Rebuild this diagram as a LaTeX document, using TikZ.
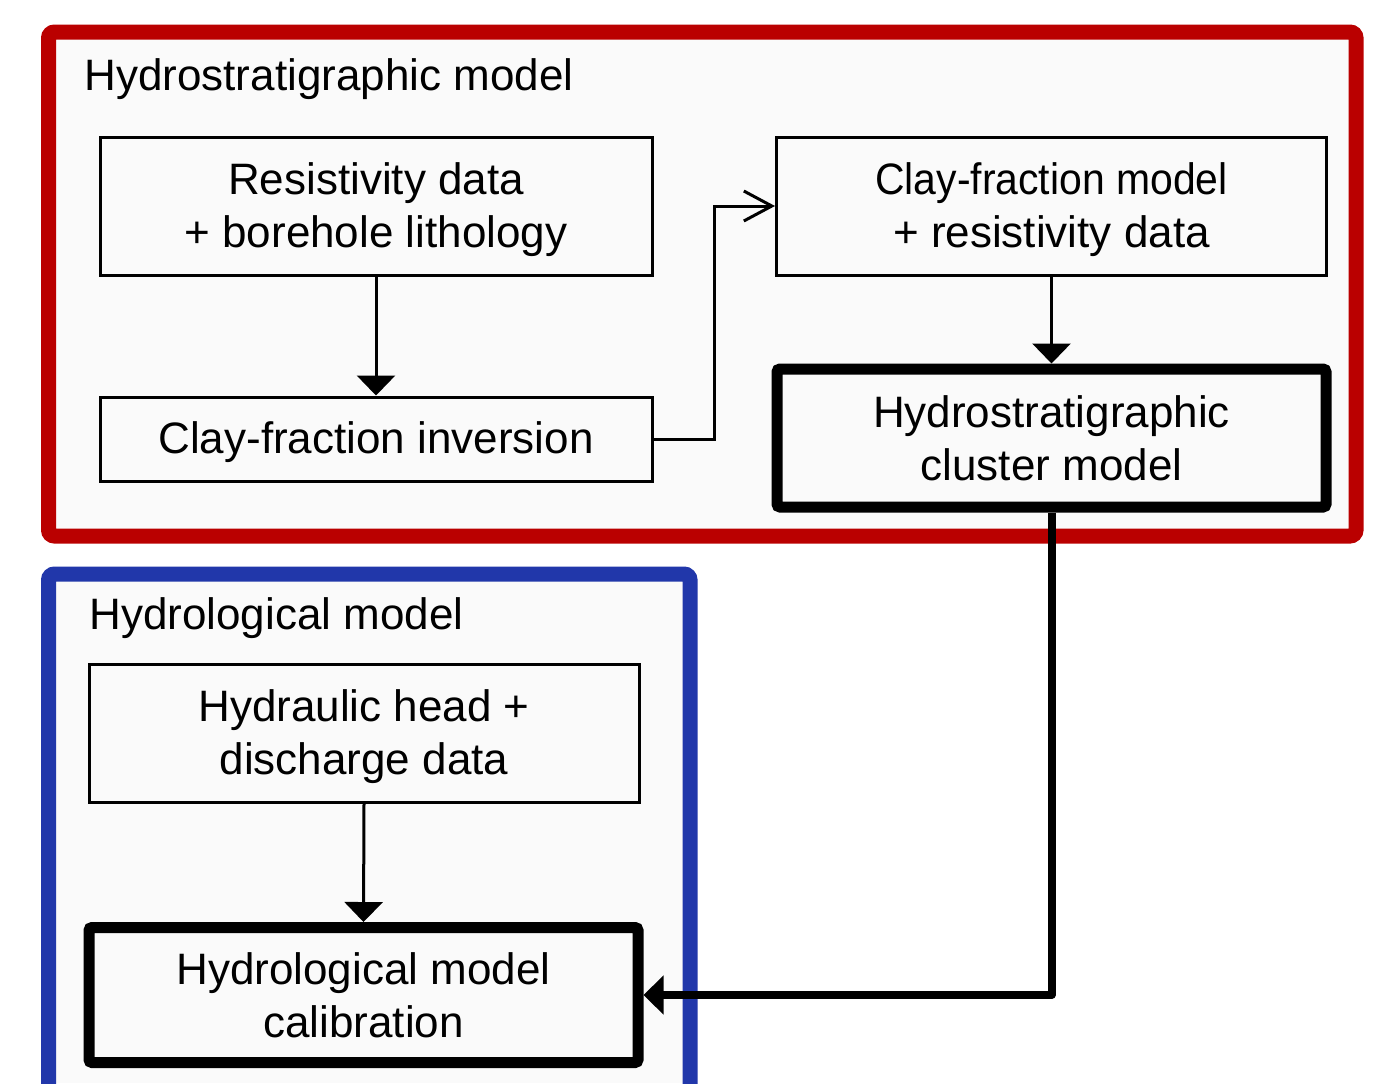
\documentclass[tikz,border=0pt]{standalone}
\usepackage{fontspec}
\setmainfont{Liberation Sans}
\usetikzlibrary{arrows.meta}
\definecolor{frRed}{RGB}{186,0,0}
\definecolor{frBlue}{RGB}{33,55,170}
\definecolor{bgGray}{RGB}{250,250,250}
\begin{document}
\begin{tikzpicture}[x=0.5pt,y=-0.5pt,
  txt/.style={font=\fontsize{22pt}{26.5pt}\selectfont, align=center, inner sep=0pt},
  thinbox/.style={draw, line width=1.5pt, rectangle, inner sep=0pt},
  thickbox/.style={draw, line width=5.5pt, rectangle, rounded corners=1.5pt, inner sep=0pt},
  frame/.style={line width=7.5pt, rounded corners=3pt, fill=bgGray},
  title/.style={font=\fontsize{22pt}{26.5pt}\selectfont, inner sep=0pt, anchor=base west},
  thinarrow/.style={line width=1.5pt, -{Triangle[length=10pt,width=19pt]}},
  openarrow/.style={line width=1.5pt, -{Straight Barb[length=14pt,width=15pt,line width=1.5pt]}},
  thickarrow/.style={line width=4pt, line join=round, -{Triangle[length=10pt,width=19pt]}}
]
\useasboundingbox (0,0) rectangle (1374,1083);
\fill[white] (0,0) rectangle (1374,1083);

% frames
\draw[frame, draw=frRed] (48.5,32) rectangle (1356,536);
\fill[bgGray] (48.5,574) rectangle (690,1083);
\draw[frame, draw=frBlue, fill=none] (48.5,1100) -- (48.5,574) -- (690,574) -- (690,1100);

% titles
\node[title] (t1) at (84,90) {Hydrostratigraphic model};
\node[title] (t2) at (89,629) {Hydrological model};

% boxes
\node[thinbox, minimum width=276pt, minimum height=69pt,
  label={[txt, yshift=-2pt]center:{Resistivity data\\+ borehole lithology}}] (A) at (376,206) {};
\node[thinbox, minimum width=276pt, minimum height=42pt,
  label={[txt, yshift=-1.5pt]center:{Clay-fraction inversion}}] (B) at (376,439) {};
\node[thinbox, minimum width=275pt, minimum height=69pt,
  label={[txt, yshift=-2pt]center:{\scalebox{0.93}[1]{Clay-fraction model}\\+ resistivity data}}] (C) at (1051.5,206) {};
\node[thickbox, minimum width=274.5pt, minimum height=69pt,
  label={[txt]center:{Hydrostratigraphic\\cluster model}}] (D) at (1051.5,438) {};
\node[thinbox, minimum width=275pt, minimum height=69pt,
  label={[txt, yshift=-2pt]center:{Hydraulic head +\\discharge data}}] (E) at (364,733) {};
\node[thickbox, minimum width=274.5pt, minimum height=67.5pt,
  label={[txt]center:{Hydrological model\\calibration}}] (F) at (363.5,995) {};

% connectors
\draw[thinarrow] (A.south) -- (B.north);
\coordinate (k) at (714,439);
\draw[openarrow] (B.east) -- (k) |- (C.west);
\draw[thinarrow] (C.south) -- (D.north);
\draw[thinarrow] (E.south) -- (F.north);
\draw[thickarrow] (D.south) |- (F.east);
\end{tikzpicture}
\end{document}
